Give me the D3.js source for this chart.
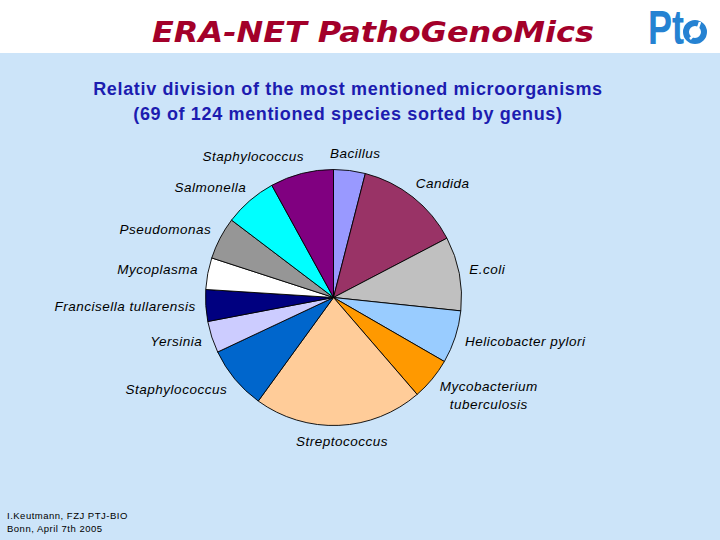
<!DOCTYPE html>
<html><head><meta charset="utf-8">
<script src="https://cdn.jsdelivr.net/npm/d3@7"></script>
<style>body{margin:0;background:#fff;} svg{display:block;}</style></head>
<body><svg id="c" width="720" height="540"></svg>
<script>
// ---- data ----
const categories = ["Bacillus","Candida","E.coli","Helicobacter pylori","Mycobacterium tuberculosis","Streptococcus","Staphylococcus","Yersinia","Francisella tullarensis","Mycoplasma","Pseudomonas","Salmonella","Staphylococcus"];
const values = [3,10,7,5,4,16,6,3,3,3,4,5,6];
const sliceColors = ["#9999FF","#993366","#C0C0C0","#99CCFF","#FF9900","#FFCC99","#0066CC","#CCCCFF","#000080","#FFFFFF","#969696","#00FFFF","#800080"];
const titleLines = ["Relativ division of the most mentioned microorganisms","(69 of 124 mentioned species sorted by genus)"];
const headerText = "ERA-NET PathoGenoMics";
const footerLines = ["I.Keutmann, FZJ PTJ-BIO","Bonn, April 7th 2005"];

const svg = d3.select("#c");
const W = 720, H = 540;

// background
svg.append("rect").attr("x",0).attr("y",0).attr("width",W).attr("height",H).attr("fill","#fff");
svg.append("rect").attr("x",0).attr("y",53).attr("width",W).attr("height",H-53).attr("fill","#CCE4F9");

// header
svg.append("text").attr("x",152).attr("y",42)
  .attr("font-family","'DejaVu Sans', Verdana, sans-serif").attr("font-weight","bold").attr("font-style","italic")
  .attr("font-size",28).attr("fill","#A3002A").attr("textLength",442).attr("lengthAdjust","spacingAndGlyphs")
  .text(headerText);

// logo
const logo = svg.append("g");
logo.append("text").attr("x",648).attr("y",44)
  .attr("font-family","'Liberation Sans Narrow','Liberation Sans',Arial,sans-serif").attr("font-weight","bold")
  .attr("font-size",48).attr("fill","#2582D2").attr("textLength",36).attr("lengthAdjust","spacingAndGlyphs").text("Pt");
logo.append("circle").attr("cx",695).attr("cy",32).attr("r",9).attr("fill","none").attr("stroke","#2582D2").attr("stroke-width",6);
logo.append("path").attr("d","M690,39 Q697,33 700,22").attr("fill","none").attr("stroke","#fff").attr("stroke-width",2.5);

// chart title
titleLines.forEach((t,i)=>{
  svg.append("text").attr("x",348).attr("y",95+i*25).attr("text-anchor","middle")
    .attr("font-family","'Liberation Sans',Arial,sans-serif").attr("font-weight","bold")
    .attr("font-size",18).attr("letter-spacing",0.65).attr("fill","#1C1CB0").text(t);
});

// pie
const cx = 333.5, cy = 297.5, R = 128;
const pie = d3.pie().sort(null).value(d=>d)(values);
const arc = d3.arc().innerRadius(0).outerRadius(R);
const g = svg.append("g").attr("transform",`translate(${cx},${cy})`);
g.selectAll("path").data(pie).join("path")
  .attr("d",arc).attr("fill",(d,i)=>sliceColors[i])
  .attr("stroke","#000").attr("stroke-width",0.9).attr("stroke-linejoin","round");

// labels
const lblR = 138;
const boxes = [];
pie.forEach((d,i)=>{
  const a = (d.startAngle+d.endAngle)/2;
  const s = Math.sin(a), c = Math.cos(a);
  const lines = categories[i]==="Mycobacterium tuberculosis" ? ["Mycobacterium","tuberculosis"] : [categories[i]];
  const lh = 18;
  const t = svg.append("text")
    .attr("font-family","'Liberation Sans',Arial,sans-serif").attr("font-style","italic")
    .attr("font-size",13.5).attr("letter-spacing",0.5).attr("fill","#000");
  lines.forEach((L,k)=>t.append("tspan").attr("x",0).attr("text-anchor","middle").attr("dy",k===0?0:lh).text(L));
  const w = t.node().getBBox().width;
  const h = (lines.length-1)*lh + 14;
  const px = cx + lblR*s, py = cy - lblR*c;
  const f = Math.sign(s)*Math.min(1, Math.abs(s)*1.4);
  const left = px + f*w/2 - w/2;
  const midY = py - c*h/2;
  boxes.push({t, w, h, left, midY, s});
});
// simple collision resolution (horizontal push of later labels)
for (let i=1;i<boxes.length;i++){
  for (let j=0;j<i;j++){
    const A=boxes[i], B=boxes[j];
    const vOverlap = Math.abs(A.midY-B.midY) < (A.h+B.h)/2;
    const hOverlap = A.left < B.left+B.w+20 && B.left < A.left+A.w+20;
    if (vOverlap && hOverlap){
      if (A.s<0) A.left = B.left - 26 - A.w; else A.left = B.left + B.w + 26;
    }
  }
}
boxes.forEach(b=>{
  const xc = b.left + b.w/2;
  const top = b.midY - b.h/2;
  b.t.selectAll("tspan").attr("x",xc);
  b.t.attr("y", top + 11);
});

// footer
footerLines.forEach((t,i)=>{
  svg.append("text").attr("x",7).attr("y",519+i*13)
    .attr("font-family","'Liberation Sans',Arial,sans-serif").attr("font-size",9.5)
    .attr("letter-spacing",0.5).attr("fill","#000").text(t);
});
</script></body></html>
